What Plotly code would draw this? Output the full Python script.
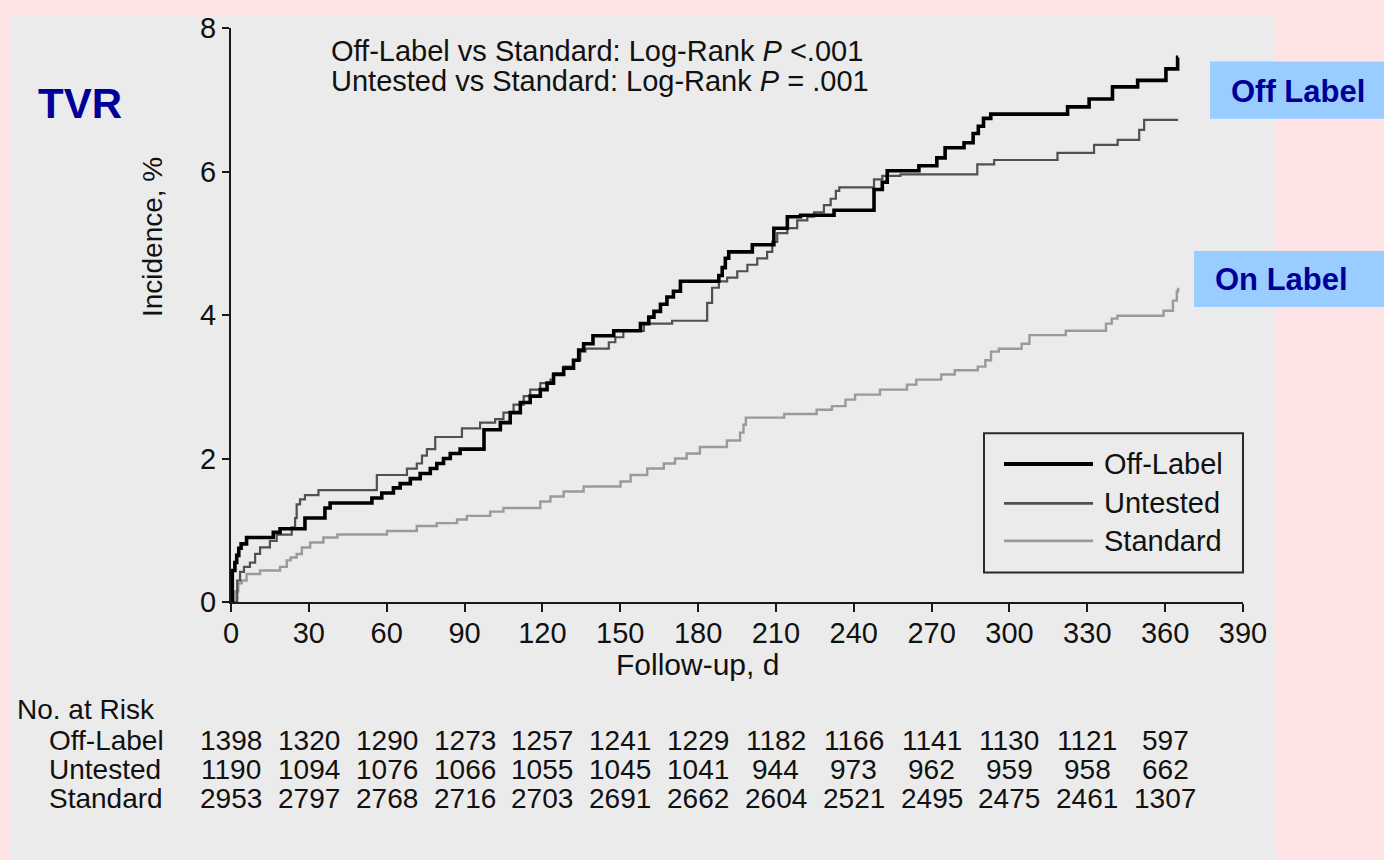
import plotly.graph_objects as go

# ---------------- data ----------------
off_days = [0, 0.5, 1.5, 2.2, 3.0, 3.9, 6.0, 16.3, 18.9, 28.5,
            36.2, 38.2, 54.3, 58.1, 62.6, 65.2, 69.1, 72.9, 76.8, 79.3,
            81.9, 84.5, 88.3, 97.5, 103.8, 107.6, 111.5, 115.3, 119.2, 121.8,
            124.3, 128.2, 132.0, 134.0, 135.9, 139.5, 147.5, 157.8, 161.0, 163.0,
            165.5, 168.0, 170.5, 173.2, 188.0, 189.3, 190.5, 191.8, 200.9, 209.2,
            214.4, 219.5, 232.4, 247.8, 251.0, 252.9, 265.1, 272.0, 275.2, 282.5,
            286.0, 288.0, 290.0, 292.8, 322.4, 330.7, 339.7, 349.4, 360.3, 364.8,
            365.0]
off_vals = [0, 0.44, 0.55, 0.65, 0.75, 0.81, 0.90, 0.97, 1.02, 1.17,
            1.31, 1.38, 1.45, 1.52, 1.59, 1.65, 1.72, 1.79, 1.86, 1.93,
            2.00, 2.07, 2.13, 2.40, 2.50, 2.64, 2.78, 2.87, 2.96, 3.05,
            3.17, 3.26, 3.37, 3.51, 3.60, 3.71, 3.78, 3.88, 3.97, 4.05,
            4.15, 4.25, 4.33, 4.47, 4.55, 4.66, 4.79, 4.88, 4.98, 5.21,
            5.37, 5.39, 5.46, 5.75, 5.85, 6.01, 6.08, 6.19, 6.33, 6.40,
            6.53, 6.63, 6.74, 6.80, 6.90, 7.01, 7.18, 7.27, 7.43, 7.59,
            7.59]

unt_days = [0, 2.4, 3.5, 5.0, 7.3, 9.3, 11.2, 15.0, 17.6, 23.4,
            24.7, 25.3, 26.6, 28.5, 33.7, 56.2, 67.8, 71.6, 73.6, 75.5,
            78.7, 89.0, 96.0, 101.8, 105.0, 108.9, 112.8, 115.3, 119.2, 123.1,
            124.3, 128.2, 132.0, 134.6, 136.6, 145.6, 148.1, 151.2, 159.1, 170.0,
            183.5, 185.4, 188.0, 191.2, 195.1, 199.0, 202.8, 206.6, 208.6, 210.5,
            214.4, 218.2, 222.1, 224.7, 228.5, 231.1, 233.1, 234.4, 247.8, 251.0,
            258.0, 287.6, 294.1, 318.5, 332.6, 341.7, 350.0, 351.9, 365.0]
unt_vals = [0, 0.30, 0.42, 0.49, 0.55, 0.67, 0.76, 0.85, 0.94, 1.04,
            1.17, 1.36, 1.43, 1.49, 1.56, 1.77, 1.86, 1.93, 2.04, 2.13,
            2.30, 2.42, 2.50, 2.55, 2.64, 2.75, 2.87, 2.96, 3.05, 3.10,
            3.19, 3.28, 3.37, 3.49, 3.53, 3.62, 3.69, 3.78, 3.88, 3.92,
            4.17, 4.38, 4.47, 4.52, 4.61, 4.70, 4.79, 4.88, 5.02, 5.14,
            5.21, 5.32, 5.37, 5.43, 5.53, 5.62, 5.73, 5.78, 5.89, 5.94,
            5.96, 6.10, 6.16, 6.26, 6.37, 6.44, 6.58, 6.72, 6.72]

std_days = [0, 1.5, 2.8, 4.1, 6.0, 11.2, 18.9, 21.5, 23.0, 25.3,
            27.3, 30.5, 35.6, 41.0, 60.1, 71.6, 79.3, 87.1, 90.9, 99.9,
            105.0, 119.2, 123.1, 128.2, 135.9, 150.1, 154.0, 160.4, 166.8, 171.1,
            175.6, 180.7, 191.1, 196.2, 197.5, 198.4, 213.2, 225.7, 231.6, 236.8,
            240.5, 250.1, 260.5, 264.1, 273.7, 278.9, 287.8, 290.7, 292.9, 295.9,
            304.7, 307.7, 321.7, 337.2, 339.4, 341.6, 359.4, 363.0, 364.5, 365.0]
std_vals = [0, 0.15, 0.26, 0.30, 0.39, 0.44, 0.49, 0.58, 0.62, 0.67,
            0.76, 0.83, 0.90, 0.94, 0.99, 1.06, 1.10, 1.15, 1.20, 1.26,
            1.31, 1.40, 1.47, 1.54, 1.61, 1.68, 1.77, 1.86, 1.93, 2.00,
            2.07, 2.16, 2.25, 2.36, 2.47, 2.57, 2.62, 2.68, 2.73, 2.82,
            2.89, 2.96, 3.03, 3.10, 3.17, 3.23, 3.28, 3.37, 3.49, 3.53,
            3.60, 3.72, 3.78, 3.88, 3.95, 3.99, 4.06, 4.20, 4.33, 4.38]

series_names = ["Off-Label", "Untested", "Standard"]
x_ticks = [0, 30, 60, 90, 120, 150, 180, 210, 240, 270, 300, 330, 360, 390]
y_ticks = [0, 2, 4, 6, 8]

risk_days = [0, 30, 60, 90, 120, 150, 180, 210, 240, 270, 300, 330, 360]
off_risk = [1398, 1320, 1290, 1273, 1257, 1241, 1229, 1182, 1166, 1141, 1130, 1121, 597]
unt_risk = [1190, 1094, 1076, 1066, 1055, 1045, 1041, 944, 973, 962, 959, 958, 662]
std_risk = [2953, 2797, 2768, 2716, 2703, 2691, 2662, 2604, 2521, 2495, 2475, 2461, 1307]

# ---------------- layout geometry (pixels) ----------------
W, H = 1384, 860
L, R, T, B = 231, 141, 20, 258
PW, PH = W - L - R, H - T - B


def px(xp):
    return (xp - L) / PW


def py(yp):
    return (T + PH - yp) / PH


FONT = "Liberation Sans, Arial, Helvetica, sans-serif"
TXT = "#111111"
NAVY = "#000099"
BLUEBOX = "#99CCFF"
styles = {
    "Off-Label": dict(color="#000000", width=3.6),
    "Untested": dict(color="#505050", width=2.2),
    "Standard": dict(color="#9a9a9a", width=2.4),
}

fig = go.Figure()
for name, xs, ys in [("Off-Label", off_days, off_vals),
                     ("Untested", unt_days, unt_vals),
                     ("Standard", std_days, std_vals)][::-1]:
    fig.add_trace(go.Scatter(x=xs, y=ys, mode="lines", name=name,
                             line=dict(shape="hv", **styles[name]),
                             showlegend=False, hoverinfo="x+y+name"))

shapes = [
    dict(type="rect", xref="paper", yref="paper", x0=px(10), x1=px(1275),
         y0=py(880), y1=py(8), fillcolor="#ebebeb", line=dict(width=0), layer="below"),
    dict(type="rect", xref="paper", yref="paper", x0=px(1210), x1=px(1400),
         y0=py(112), y1=py(54), fillcolor=BLUEBOX, line=dict(width=0), layer="below"),
    dict(type="rect", xref="paper", yref="paper", x0=px(1194), x1=px(1400),
         y0=py(303), y1=py(246), fillcolor=BLUEBOX, line=dict(width=0), layer="below"),
    dict(type="rect", xref="paper", yref="paper", x0=px(984), x1=px(1243),
         y0=py(572), y1=py(431), fillcolor="rgba(0,0,0,0)",
         line=dict(color="#2a2a2a", width=2), layer="above"),
]

annotations = []
legend_rows = [462, 502, 540]
for name, yy in zip(series_names, legend_rows):
    st = styles[name]
    shapes.append(dict(type="line", xref="paper", yref="paper", x0=px(1004), x1=px(1093),
                       y0=py(yy), y1=py(yy), line=dict(color=st["color"], width=st["width"] + 0.4)))
    annotations.append(dict(text=name, xref="paper", yref="paper", x=px(1102), y=py(yy),
                            xanchor="left", yanchor="middle", showarrow=False,
                            font=dict(family=FONT, size=29, color=TXT)))

annotations += [
    dict(text="Off-Label vs Standard: Log-Rank <i>P</i> <.001", xref="paper", yref="paper",
         x=px(329), y=py(43), xanchor="left", yanchor="middle", showarrow=False,
         font=dict(family=FONT, size=29, color=TXT)),
    dict(text="Untested vs Standard: Log-Rank <i>P</i> = .001", xref="paper", yref="paper",
         x=px(329), y=py(74), xanchor="left", yanchor="middle", showarrow=False,
         font=dict(family=FONT, size=29, color=TXT)),
    dict(text="<b>TVR</b>", xref="paper", yref="paper", x=px(80), y=py(97),
         xanchor="center", yanchor="middle", showarrow=False,
         font=dict(family=FONT, size=42, color=NAVY)),
    dict(text="<b>Off Label</b>", xref="paper", yref="paper", x=px(1298), y=py(84),
         xanchor="center", yanchor="middle", showarrow=False,
         font=dict(family=FONT, size=31, color=NAVY)),
    dict(text="<b>On Label</b>", xref="paper", yref="paper", x=px(1281), y=py(275),
         xanchor="center", yanchor="middle", showarrow=False,
         font=dict(family=FONT, size=31, color=NAVY)),
    dict(text="Incidence, %", xref="paper", yref="paper", x=px(152), y=py(232),
         xanchor="center", yanchor="middle", textangle=-90, showarrow=False,
         font=dict(family=FONT, size=28, color=TXT)),
    dict(text="Follow-up, d", xref="paper", yref="paper", x=px(697), y=py(665),
         xanchor="center", yanchor="middle", showarrow=False,
         font=dict(family=FONT, size=30, color=TXT)),
    dict(text="No. at Risk", xref="paper", yref="paper", x=px(15), y=py(711),
         xanchor="left", yanchor="middle", showarrow=False,
         font=dict(family=FONT, size=28, color=TXT)),
]

row_y = [742, 772, 801]
for name, counts, yy in zip(series_names, [off_risk, unt_risk, std_risk], row_y):
    annotations.append(dict(text=name, xref="paper", yref="paper", x=px(47), y=py(yy),
                            xanchor="left", yanchor="middle", showarrow=False,
                            font=dict(family=FONT, size=28, color=TXT)))
    for d, c in zip(risk_days, counts):
        annotations.append(dict(text=str(c), xref="x", yref="paper", x=d, y=py(yy),
                                xanchor="center", yanchor="middle", showarrow=False,
                                font=dict(family=FONT, size=28, color=TXT)))

fig.update_layout(
    width=W, height=H,
    margin=dict(l=L, r=R, t=T, b=B, pad=0),
    paper_bgcolor="#ffe4e6",
    plot_bgcolor="rgba(0,0,0,0)",
    shapes=shapes,
    annotations=annotations,
    showlegend=False,
    font=dict(family=FONT, color=TXT),
    xaxis=dict(range=[0, 390], tickvals=x_ticks, ticktext=[str(v) for v in x_ticks],
               showgrid=False, zeroline=False, showline=True, linecolor="#1a1a1a",
               linewidth=2, ticks="outside", ticklen=8, tickwidth=2, tickcolor="#1a1a1a",
               ticklabelstandoff=-4,
               tickfont=dict(family=FONT, size=29, color=TXT)),
    yaxis=dict(range=[0, 8], tickvals=y_ticks, ticktext=[str(v) for v in y_ticks],
               showgrid=False, zeroline=False, showline=True, linecolor="#1a1a1a",
               linewidth=2, ticks="outside", ticklen=7, tickwidth=2, tickcolor="#1a1a1a",
               tickfont=dict(family=FONT, size=29, color=TXT)),
)

fig.write_html("out.html")
